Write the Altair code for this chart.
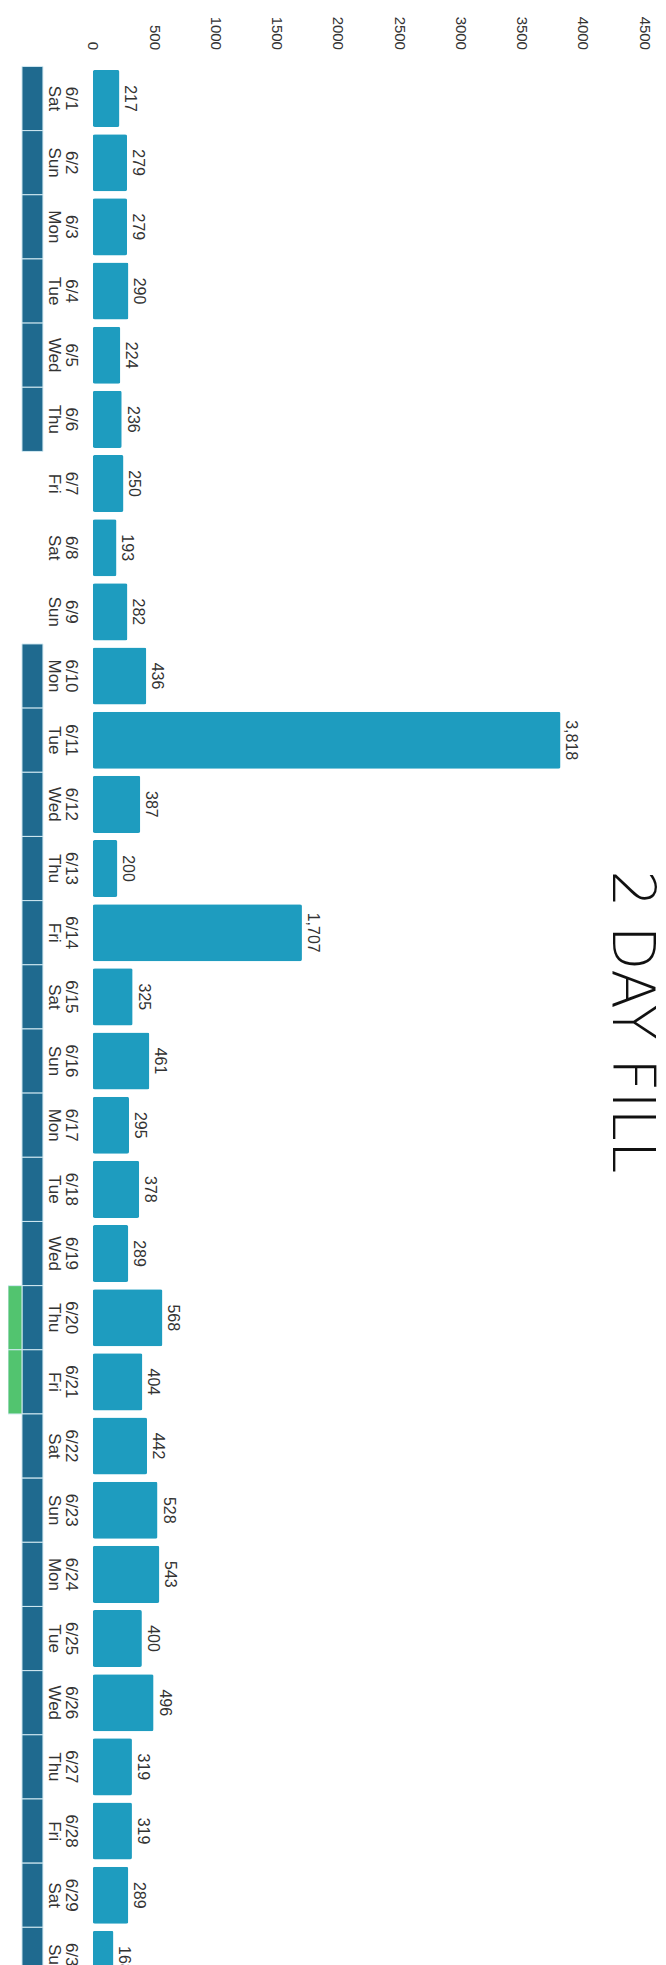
import altair as alt
import pandas as pd

# ---- data ----
dates = ["6/1", "6/2", "6/3", "6/4", "6/5", "6/6", "6/7", "6/8", "6/9", "6/10",
         "6/11", "6/12", "6/13", "6/14", "6/15", "6/16", "6/17", "6/18", "6/19", "6/20",
         "6/21", "6/22", "6/23", "6/24", "6/25", "6/26", "6/27", "6/28", "6/29", "6/30"]
weekdays = ["Sat", "Sun", "Mon", "Tue", "Wed", "Thu", "Fri", "Sat", "Sun", "Mon",
            "Tue", "Wed", "Thu", "Fri", "Sat", "Sun", "Mon", "Tue", "Wed", "Thu",
            "Fri", "Sat", "Sun", "Mon", "Tue", "Wed", "Thu", "Fri", "Sat", "Sun"]
counts = [217, 279, 279, 290, 224, 236, 250, 193, 282, 436,
          3818, 387, 200, 1707, 325, 461, 295, 378, 289, 568,
          404, 442, 528, 543, 400, 496, 319, 319, 289, 168]
status_days = ["6/1", "6/2", "6/3", "6/4", "6/5", "6/6",
               "6/10", "6/11", "6/12", "6/13", "6/14", "6/15", "6/16", "6/17", "6/18",
               "6/19", "6/20", "6/21", "6/22", "6/23", "6/24", "6/25", "6/26", "6/27",
               "6/28", "6/29", "6/30"]
flag_days = ["6/20", "6/21"]
tick_values = [0, 500, 1000, 1500, 2000, 2500, 3000, 3500, 4000, 4500]
note_text = ["2 DAY FILL"]

labels = [f"{d} {w}" for d, w in zip(dates, weekdays)]
df = pd.DataFrame({"day": labels, "count": counts})
blue_df = pd.DataFrame({"day": [l for d, l in zip(dates, labels) if d in status_days], "col": "status"})
green_df = pd.DataFrame({"day": [l for d, l in zip(dates, labels) if d in flag_days], "col": "flag"})

W, H = 552, 1928
FONT = "Liberation Sans"

yenc = alt.Y(
    "day:N",
    sort=labels,
    scale=alt.Scale(domain=labels, paddingInner=0.11, paddingOuter=0.055),
    axis=alt.Axis(
        orient="left", title=None, ticks=False, domain=False,
        labelAngle=90, labelAlign="center", labelBaseline="top",
        labelExpr="split(datum.label, ' ')",
        labelFontSize=17, labelLineHeight=17, labelPadding=14,
        labelColor="#333333", labelFont=FONT,
    ),
)

base = alt.Chart(df).encode(y=yenc)

bars = base.mark_bar(color="#1e9cbf", cornerRadius=2).encode(
    x=alt.X(
        "count:Q",
        scale=alt.Scale(domain=[0, 4500], nice=False),
        axis=alt.Axis(
            orient="top", values=tick_values, format="d", title=None,
            labelAngle=90, labelAlign="right", labelBaseline="middle",
            labelFontSize=15, labelPadding=17, labelFlush=False,
            ticks=False, domain=False, grid=False,
            labelColor="#333333", labelFont=FONT,
        ),
    )
)

values = base.mark_text(
    angle=90, align="center", baseline="bottom", dy=-3,
    fontSize=16, color="#333333", font=FONT,
).encode(x="count:Q", text=alt.Text("count:Q", format=","))

note = alt.Chart(pd.DataFrame({"note": note_text})).mark_text(
    angle=90, align="center", baseline="middle", fontSize=58, dx=25, dy=14,
    color="#111111", font="DejaVu Sans", fontWeight=200,
).encode(x=alt.datum(4500), y=alt.datum(labels[14]), text="note:N")

main = alt.layer(bars, values, note)

strip_y = alt.Y("day:N", scale=alt.Scale(domain=labels, paddingInner=0, paddingOuter=0), axis=None)

blue = alt.Chart(blue_df).mark_rect(color="#1f6a8f", stroke="#d3eaf2", strokeWidth=1).encode(
    x=alt.X("col:N", scale=alt.Scale(domain=["status"], range=[-71, -50], paddingInner=0, paddingOuter=0), axis=None),
    y=strip_y,
)
green = alt.Chart(green_df).mark_rect(color="#52c46f", stroke="#d3eaf2", strokeWidth=1).encode(
    x=alt.X("col:N", scale=alt.Scale(domain=["flag"], range=[-85, -71], paddingInner=0, paddingOuter=0), axis=None),
    y=strip_y,
)

chart = alt.layer(main, blue, green).resolve_scale(x="independent", y="independent").properties(
    width=W, height=H,
    padding={"left": 85, "top": 57, "right": 14, "bottom": 0},
    autosize=alt.AutoSizeParams(type="none"),
).configure_view(stroke=None)

chart.save("out.html", embed_options={"renderer": "svg", "actions": False})
